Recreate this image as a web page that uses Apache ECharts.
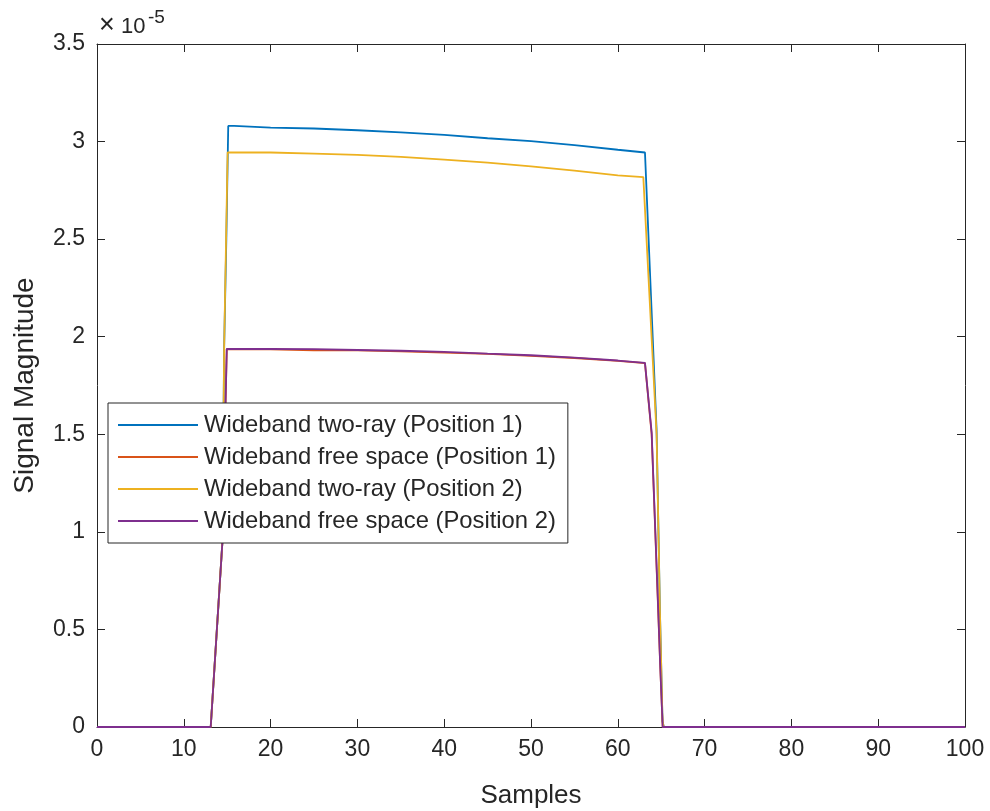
<!DOCTYPE html>
<html>
<head>
<meta charset="utf-8">
<script src="https://cdn.jsdelivr.net/npm/echarts@6/dist/echarts.min.js"></script>
<style>
html,body{margin:0;padding:0;background:#fff;}
#chart{width:990px;height:811px;}
</style>
</head>
<body>
<div id="chart"></div>
<script>
// Values in units of 1e-5
const seriesNames = [
  'Wideband two-ray (Position 1)',
  'Wideband free space (Position 1)',
  'Wideband two-ray (Position 2)',
  'Wideband free space (Position 2)'
];
const colors = ['#0072BD', '#D95319', '#EDB120', '#7E2F8E'];

const xTwoRay1 = [0, 13.1, 14.45, 14.65, 14.9, 15.12, 15.8, 16, 20, 25, 30, 35, 40, 45, 50, 55, 60, 63.13, 64.47, 64.85, 65.15, 65.3, 100];
const yTwoRay1 = [0, 0, 0.95, 1.95, 2.5, 3.08, 3.08, 3.072, 3.071, 3.067, 3.058, 3.047, 3.034, 3.017, 3.002, 2.982, 2.958, 2.944, 1.52, 0.6, 0.03, 0, 0];

const xFree1 = [0, 13.1, 14.45, 14.95, 20, 25, 30, 35, 40, 45, 50, 55, 60, 63.13, 63.9, 64.6, 64.9, 65.17, 100];
const yFree1 = [0, 0, 0.95, 1.937, 1.935, 1.930, 1.930, 1.925, 1.918, 1.912, 1.902, 1.891, 1.876, 1.865, 1.50, 0.66, 0.3, 0, 0];

const xTwoRay2 = [0, 13.1, 14.45, 14.65, 15.05, 20, 25, 30, 35, 40, 45, 50, 55, 60, 62.94, 64.47, 64.85, 65.15, 65.3, 100];
const yTwoRay2 = [0, 0, 0.95, 1.95, 2.945, 2.944, 2.938, 2.932, 2.922, 2.908, 2.892, 2.873, 2.851, 2.827, 2.818, 1.5, 0.6, 0.03, 0, 0];

const xFree2 = [0, 13.1, 14.45, 14.95, 20, 25, 30, 35, 40, 45, 50, 55, 60, 63.13, 63.9, 64.6, 64.9, 65.17, 100];
const yFree2 = [0, 0, 0.95, 1.937, 1.937, 1.936, 1.932, 1.928, 1.922, 1.913, 1.905, 1.893, 1.878, 1.866, 1.51, 0.67, 0.3, 0, 0];

const xTicks = [0, 10, 20, 30, 40, 50, 60, 70, 80, 90, 100];
const yTicks = [0, 0.5, 1, 1.5, 2, 2.5, 3, 3.5];

function pairs(xs, ys) { return xs.map((x, i) => [x, ys[i]]); }
const allX = [xTwoRay1, xFree1, xTwoRay2, xFree2];
const allY = [yTwoRay1, yFree1, yTwoRay2, yFree2];

const FONT = '"Liberation Sans", Arial, Helvetica, sans-serif';
const TXT = '#262626';
const TICK_FS = 23;

const chart = echarts.init(document.getElementById('chart'), null, {renderer: 'canvas'});

const axisCommon = {
  type: 'value',
  axisLine: {show: true, onZero: false, lineStyle: {color: TXT, width: 1}},
  axisTick: {show: true, inside: true, length: 8, lineStyle: {color: TXT, width: 1}},
  splitLine: {show: false}
};

chart.setOption({
  backgroundColor: '#ffffff',
  animation: false,
  color: colors,
  grid: {left: 97, right: 25, top: 44, bottom: 84, containLabel: false, outerBoundsMode: 'none'},
  xAxis: [
    Object.assign({}, axisCommon, {
      min: xTicks[0], max: xTicks[xTicks.length - 1], interval: 10,
      position: 'bottom',
      name: 'Samples', nameLocation: 'middle', nameGap: 56,
      nameTextStyle: {fontFamily: FONT, fontSize: 26, color: TXT},
      axisLabel: {show: true, fontFamily: FONT, fontSize: TICK_FS, color: TXT, margin: 11}
    }),
    Object.assign({}, axisCommon, {
      min: xTicks[0], max: xTicks[xTicks.length - 1], interval: 10,
      position: 'top', axisLabel: {show: false}
    })
  ],
  yAxis: [
    Object.assign({}, axisCommon, {
      min: yTicks[0], max: yTicks[yTicks.length - 1], interval: 0.5,
      position: 'left',
      name: 'Signal Magnitude', nameLocation: 'middle', nameGap: 58, nameRotate: 90,
      nameTextStyle: {fontFamily: FONT, fontSize: 28, color: TXT},
      axisLabel: {show: true, fontFamily: FONT, fontSize: TICK_FS, color: TXT, margin: 12}
    }),
    Object.assign({}, axisCommon, {
      min: yTicks[0], max: yTicks[yTicks.length - 1], interval: 0.5,
      position: 'right', axisLabel: {show: false}
    })
  ],
  legend: {
    orient: 'vertical',
    left: 108, top: 403,
    padding: [10, 12, 10, 10],
    icon: 'rect',
    itemWidth: 80, itemHeight: 2, itemGap: 8,
    backgroundColor: '#ffffff',
    borderColor: TXT, borderWidth: 1, borderRadius: 0,
    textStyle: {fontFamily: FONT, fontSize: 23.8, lineHeight: 24, color: TXT, padding: [0, 0, 0, 1]},
    data: seriesNames
  },
  graphic: [
    {type: 'text', left: 99, top: 12, style: {text: '×', fontFamily: FONT, fontSize: 27, fill: TXT}},
    {type: 'text', left: 121, top: 16, style: {text: '10', fontFamily: FONT, fontSize: 22, fill: TXT}},
    {type: 'text', left: 148, top: 8, style: {text: '-5', fontFamily: FONT, fontSize: 19, fill: TXT}}
  ],
  series: seriesNames.map((name, i) => ({
    name: name,
    type: 'line',
    xAxisIndex: 0, yAxisIndex: 0,
    symbol: 'none',
    showSymbol: false,
    lineStyle: {width: 1.8, color: colors[i]},
    itemStyle: {color: colors[i]},
    data: pairs(allX[i], allY[i])
  }))
});
</script>
</body>
</html>
